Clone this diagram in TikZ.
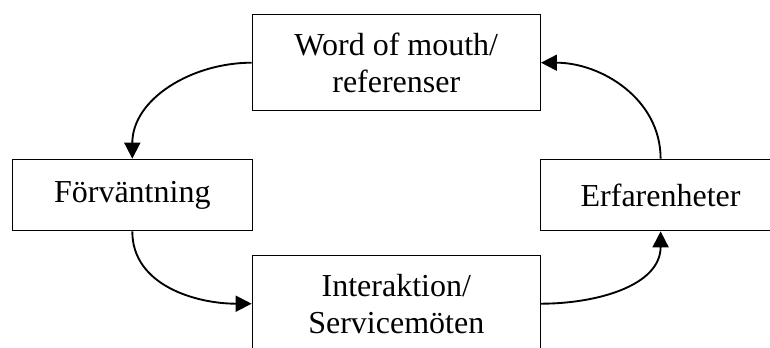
\documentclass[tikz,border=0pt]{standalone}
\usepackage{fontspec}
\setmainfont{Liberation Serif}
\usepackage{tikz}
\usetikzlibrary{arrows.meta,positioning}
\tikzset{
  box/.style={draw, line width=1pt, align=center, inner sep=0pt,
              font=\fontsize{24}{27.6}\selectfont},
  bigbox/.style={box, minimum width=216pt, minimum height=72pt},
  smallbox/.style={box, minimum width=180pt, minimum height=53.5pt},
  arrow/.style={-{Triangle[length=12pt,width=12pt]}, line width=1.4pt}
}

\begin{document}
\begin{tikzpicture}[x=0.75pt, y=-0.75pt]
  \useasboundingbox (0,0) rectangle (770,347);
  \clip (0,0) rectangle (770,347);
  \node[bigbox] (wom) at (396.3,62.7) {Word of mouth/\\referenser};
  \node[smallbox] (forv) at (132.3,195) {Förväntning};
  \node[bigbox] (inter) at (396.3,303.7) {Interaktion/\\Servicemöten};
  \node[smallbox] (erf) at (660.6,195) {Erfarenheter};
  % cycle
  \draw[arrow] (wom.west) to[out=180, in=90] (forv.north);
  \draw[arrow] (forv.south) to[out=-90, in=180] (inter.west);
  \draw[arrow] (inter.east) to[out=0, in=-90] (erf.south);
  \draw[arrow] (erf.north) to[out=90, in=0] (wom.east);
\end{tikzpicture}
\end{document}
